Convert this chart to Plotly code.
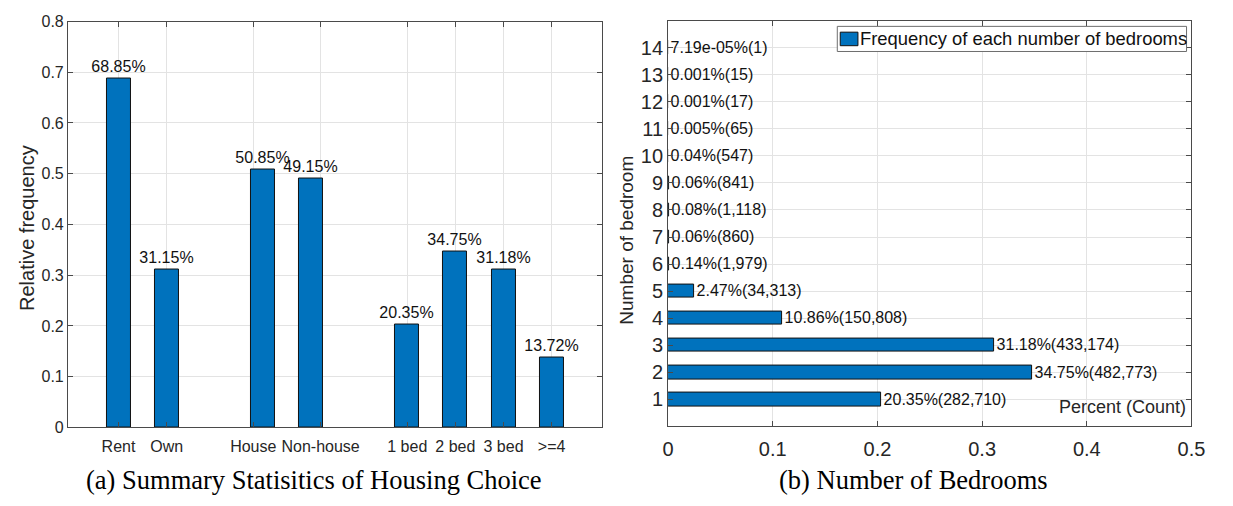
import plotly.graph_objects as go

# ---- data -------------------------------------------------------------
# (a) housing choice summary: relative frequencies by group
tenure_labels = ["Rent", "Own"]
tenure_freq = [0.6885, 0.3115]
type_labels = ["House", "Non-house"]
type_freq = [0.5085, 0.4915]
bed_labels = ["1 bed", "2 bed", "3 bed", ">=4"]
bed_freq = [0.2035, 0.3475, 0.3118, 0.1372]

# (b) number of bedrooms: percent share and count per bedroom number
bedrooms = [1, 2, 3, 4, 5, 6, 7, 8, 9, 10, 11, 12, 13, 14]
bedroom_pct = [20.35, 34.75, 31.18, 10.86, 2.47, 0.14, 0.06, 0.08, 0.06,
               0.04, 0.005, 0.001, 0.001, 7.19e-05]
bedroom_count = [282710, 482773, 433174, 150808, 34313, 1979, 860, 1118,
                 841, 547, 65, 17, 15, 1]

left_yticks = [0, 0.1, 0.2, 0.3, 0.4, 0.5, 0.6, 0.7, 0.8]
right_xticks = [0, 0.1, 0.2, 0.3, 0.4, 0.5]

# ---- styling ----------------------------------------------------------
W, H = 1233, 506
BAR = "#0072BD"
AX = "#4a4a4a"
GRID = "#e3e3e3"
TXT = "#262626"
SANS = "Liberation Sans, Arial, sans-serif"
SERIF = "Liberation Serif, Times New Roman, serif"


def fx(p):
    """page x pixel -> paper fraction"""
    return p / W


def fy(p):
    """page y pixel (from top) -> paper fraction"""
    return 1 - p / H


# slot layout for panel (a): groups separated by one empty slot
groups = [(tenure_labels, tenure_freq), (type_labels, type_freq), (bed_labels, bed_freq)]
bar_x, bar_y, bar_lab = [], [], []
slot = 1
for labs, vals in groups:
    for lab, v in zip(labs, vals):
        bar_x.append(slot)
        bar_y.append(v)
        bar_lab.append(lab)
        slot += 1
    slot += 1
# the two type labels are spread a little so they do not collide
label_shift = {"House": -0.2, "Non-house": 0.2}
tick_x = [x + label_shift.get(l, 0) for x, l in zip(bar_x, bar_lab)]

fig = go.Figure()

fig.add_trace(go.Bar(
    x=bar_x, y=bar_y, width=0.5,
    marker=dict(color=BAR, line=dict(color="#111111", width=1)),
    text=[f"{v * 100:.2f}%" for v in bar_y],
    textposition="outside", constraintext="none", cliponaxis=False,
    textfont=dict(family=SANS, size=16, color="#111111"),
    xaxis="x", yaxis="y", showlegend=False,
))

fig.add_trace(go.Bar(
    y=bedrooms, x=[p / 100 for p in bedroom_pct], orientation="h", width=0.5,
    marker=dict(color=BAR, line=dict(color="#111111", width=1)),
    text=[f"{p:g}%({c:,})" for p, c in zip(bedroom_pct, bedroom_count)],
    textposition="outside", constraintext="none", cliponaxis=False,
    textfont=dict(family=SANS, size=16, color="#111111"),
    xaxis="x2", yaxis="y2", showlegend=False,
))

common = dict(showline=True, linecolor=AX, linewidth=1, mirror="ticks",
              ticks="inside", ticklen=5, tickcolor=AX, showgrid=True,
              gridcolor=GRID, gridwidth=1, zeroline=False, fixedrange=True)

fig.update_layout(
    width=W, height=H, margin=dict(l=0, r=0, t=0, b=0),
    paper_bgcolor="white", plot_bgcolor="white",
    font=dict(family=SANS, color=TXT),
    bargap=0,
    xaxis=dict(domain=[fx(63), fx(606)], range=[-0.05, 11.05],
               tickmode="array", tickvals=tick_x, ticktext=bar_lab,
               ticklabelstandoff=4,
               tickfont=dict(size=16, color=TXT), anchor="y", **common),
    yaxis=dict(domain=[fy(434), fy(14)], range=[0, 0.8],
               tickmode="array", tickvals=left_yticks,
               ticktext=[f"{v:g}" for v in left_yticks],
               tickfont=dict(size=16, color=TXT), anchor="x", **common),
    xaxis2=dict(domain=[fx(673), fx(1205)], range=[0, 0.5],
                tickmode="array", tickvals=right_xticks,
                ticktext=[f"{v:g}" for v in right_xticks],
                ticklabelstandoff=5,
                tickfont=dict(size=20, color=TXT), anchor="y2", **common),
    yaxis2=dict(domain=[fy(433), fy(13)], range=[0, 15],
                tickmode="array", tickvals=bedrooms,
                ticktext=[str(b) for b in bedrooms],
                tickfont=dict(size=20, color=TXT), anchor="x2", **common),
)

ann = [
    dict(text="Relative frequency", x=fx(22), y=fy(228), textangle=-90,
         font=dict(size=20, color=TXT)),
    dict(text="Number of bedroom", x=fx(631), y=fy(240), textangle=-90,
         font=dict(size=19, color=TXT)),
    dict(text="Percent (Count)", x=fx(1201), y=fy(413), xanchor="right",
         font=dict(size=18, color=TXT)),
    dict(text="(a) Summary Statisitics of Housing Choice", x=fx(313), y=fy(488),
         font=dict(family=SERIF, size=26.5, color="#000000")),
    dict(text="(b) Number of Bedrooms", x=fx(922), y=fy(488),
         font=dict(family=SERIF, size=26.5, color="#000000")),
    # legend entry
    dict(text="Frequency of each number of bedrooms", x=fx(866), y=fy(32),
         xanchor="left", font=dict(size=18.4, color="#111111")),
]
for a in ann:
    a.setdefault("xref", "paper")
    a.setdefault("yref", "paper")
    a.setdefault("showarrow", False)
    a.setdefault("yanchor", "middle")
    a.setdefault("xanchor", "center")
fig.update_layout(annotations=ann)

fig.update_layout(shapes=[
    dict(type="rect", xref="paper", yref="paper", x0=fx(845), x1=fx(1200),
         y0=fy(45), y1=fy(19), line=dict(color="#6e6e6e", width=1),
         fillcolor="white", layer="above"),
    dict(type="rect", xref="paper", yref="paper", x0=fx(848), x1=fx(866),
         y0=fy(39), y1=fy(25), line=dict(color="#111111", width=1),
         fillcolor=BAR, layer="above"),
])

fig.write_html("out.html")
